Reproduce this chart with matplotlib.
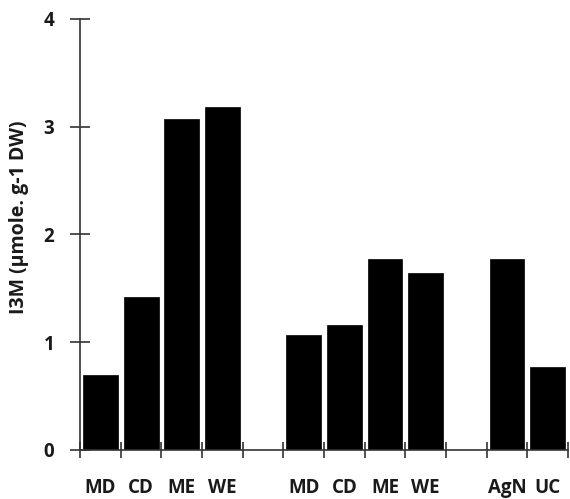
import matplotlib
matplotlib.use("Agg")
import matplotlib.pyplot as plt

categories = ["MD", "CD", "ME", "WE", "", "MD", "CD", "ME", "WE", "", "AgN", "UC"]
values = [0.70, 1.42, 3.07, 3.18, 0, 1.07, 1.16, 1.77, 1.64, 0, 1.77, 0.77]
yticks = [0, 1, 2, 3, 4]

plt.rcParams['font.family'] = ['Open Sans', 'DejaVu Sans']

fig = plt.figure(figsize=(5.70, 4.99), dpi=100)
ax = fig.add_axes([0.1404, 0.0982, 0.8561, 0.8638])

xs = list(range(len(categories)))
bar_x = [x for x, c in zip(xs, categories) if c]
bar_v = [v for v, c in zip(values, categories) if c]
ax.bar(bar_x, bar_v, width=0.86, color='black', edgecolor='black', linewidth=0.5)

ax.set_xlim(-0.5, len(categories) - 0.5)
ax.set_ylim(0, 4)

ax.set_xticks(xs)
ax.set_xticklabels(categories, fontsize=13.5, fontweight='bold', color='#1a1a1a')
ax.tick_params(axis='x', which='major', length=0, pad=20)
ax.set_xticks([x - 0.5 for x in range(len(categories) + 1)], minor=True)
ax.tick_params(axis='x', which='minor', direction='inout', length=12, width=1.2, color='#333333')

ax.set_yticks(yticks)
ax.set_yticklabels([str(t) for t in yticks], fontsize=13.5, fontweight='bold', color='#1a1a1a')
ax.tick_params(axis='y', direction='inout', length=15, width=1.2, pad=11, color='#333333')

ax.set_ylabel("I3M (µmole. g-1 DW)", fontsize=14, fontweight='bold', color='#1a1a1a')
ax.yaxis.set_label_coords(-0.105, 0.54)

for s in ['top', 'right']:
    ax.spines[s].set_visible(False)
for s in ['left', 'bottom']:
    ax.spines[s].set_linewidth(1.2)
    ax.spines[s].set_color('#333333')

fig.savefig("out.png", dpi=100)
